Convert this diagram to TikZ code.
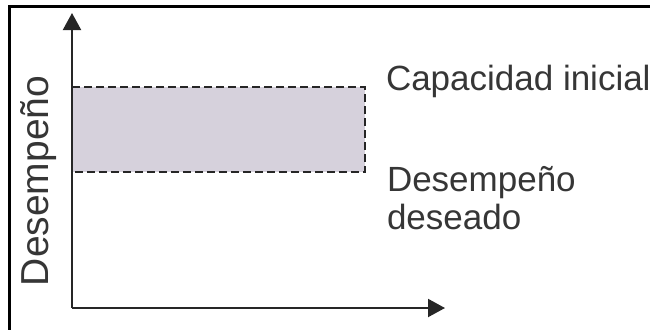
\documentclass[tikz,border=0pt]{standalone}
\usepackage{fontspec}
\setmainfont{Liberation Sans}
\usetikzlibrary{arrows.meta}
\definecolor{txt}{HTML}{363636}
\definecolor{band}{HTML}{D6D1DC}
\tikzset{
  axis/.style={line width=2pt, draw=black!85, -{Triangle[length=17pt,width=18pt]}},
  frameline/.style={line width=2.6pt, draw=black},
  limit/.style={line width=1.8pt, draw=black!85, dash pattern=on 8pt off 4pt},
  lbl/.style={inner sep=0pt, outer sep=0pt, text=txt, font=\fontsize{35pt}{36pt}\selectfont},
}
\begin{document}
\begin{tikzpicture}[x=1pt,y=-1pt]
\useasboundingbox (0,0) rectangle (650,330);
% frame (top and left)
\coordinate (fr) at (650,6.5);
\coordinate (fc) at (9.5,6.5);
\coordinate (fb) at (9.5,330);
\draw[frameline] (fr) -- (fc) -- (fb);
% band
\coordinate (bl) at (72,172);
\coordinate (tl) at (72,87);
\coordinate (tr) at (365,87);
\coordinate (br) at (365,172);
\fill[band] (tl) rectangle (br);
\draw[limit] (tl) -- (tr) -- (br) -- (bl);
% axes
\coordinate (O) at (72,308);
\coordinate (ytip) at (72,13);
\coordinate (xtip) at (445,308);
\draw[axis] (O) -- (ytip);
\draw[axis] (O) -- (xtip);
% labels
\node[lbl, anchor=base west] (cap) at (386,90) {Capacidad inicial};
\node[lbl, anchor=base west] (des1) at (387,191) {Desempeño};
\node[lbl, anchor=base west] (des2) at (387,229) {deseado};
\node[lbl, anchor=base, rotate=90, font=\fontsize{39pt}{40pt}\selectfont] (ylab) at (48,181) {Desempeño};
\end{tikzpicture}
\end{document}
